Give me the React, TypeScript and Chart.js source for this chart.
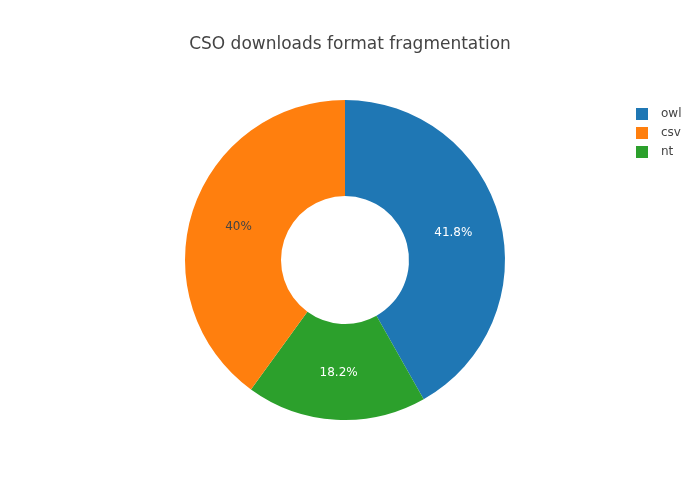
import React, { useEffect, useRef } from "react";
import { Chart, registerables } from "chart.js";

Chart.register(...registerables);

const TITLE = "CSO downloads format fragmentation";
// drawing order (clockwise from 12 o'clock)
const categories = ["owl", "nt", "csv"];
const counts = [23, 10, 22];
const colors = ["#1f77b4", "#2ca02c", "#ff7f0e"];
const labelColors = ["#ffffff", "#ffffff", "#444444"];
// legend order
const legendOrder = ["owl", "csv", "nt"];

const FONT = '"DejaVu Sans", verdana, arial, sans-serif';

const overlayPlugin = {
  id: "overlay",
  afterDatasetsDraw(chart: any) {
    const ctx = chart.ctx;
    const meta = chart.getDatasetMeta(0);
    const total = counts.reduce((a, b) => a + b, 0);
    ctx.save();
    ctx.font = `12px ${FONT}`;
    ctx.textAlign = "center";
    ctx.textBaseline = "middle";
    meta.data.forEach((arc: any, i: number) => {
      const p = arc.tooltipPosition();
      const pct = (counts[i] / total) * 100;
      const txt = (Math.round(pct * 10) / 10).toString() + "%";
      ctx.fillStyle = labelColors[i];
      ctx.fillText(txt, p.x, p.y + 1);
    });
    // title
    ctx.font = `17px ${FONT}`;
    ctx.fillStyle = "#444444";
    ctx.fillText(TITLE, 350, 45);
    // legend
    ctx.font = `12px ${FONT}`;
    ctx.textAlign = "left";
    legendOrder.forEach((name, j) => {
      const idx = categories.indexOf(name);
      const cy = 114 + j * 19;
      ctx.fillStyle = colors[idx];
      ctx.fillRect(636, cy - 6, 12, 12);
      ctx.fillStyle = "#444444";
      ctx.fillText(name, 661, cy);
    });
    ctx.restore();
  },
};

export default function App() {
  const ref = useRef<HTMLCanvasElement>(null);
  useEffect(() => {
    if (!ref.current) return;
    const chart = new Chart(ref.current, {
      type: "doughnut",
      data: {
        labels: categories,
        datasets: [
          {
            data: counts,
            backgroundColor: colors,
            borderWidth: 0,
          },
        ],
      },
      options: {
        animation: false,
        responsive: false,
        cutout: "40%",
        layout: { padding: { left: 185, right: 195, top: 100, bottom: 80 } },
        plugins: {
          legend: { display: false },
          title: { display: false },
          tooltip: { enabled: false },
        },
      },
      plugins: [overlayPlugin],
    });
    return () => chart.destroy();
  }, []);
  return (
    <div style={{ position: "fixed", left: 0, top: 0, width: 700, height: 500, background: "#fff" }}>
      <canvas ref={ref} width={700} height={500} style={{ width: 700, height: 500 }} />
    </div>
  );
}
